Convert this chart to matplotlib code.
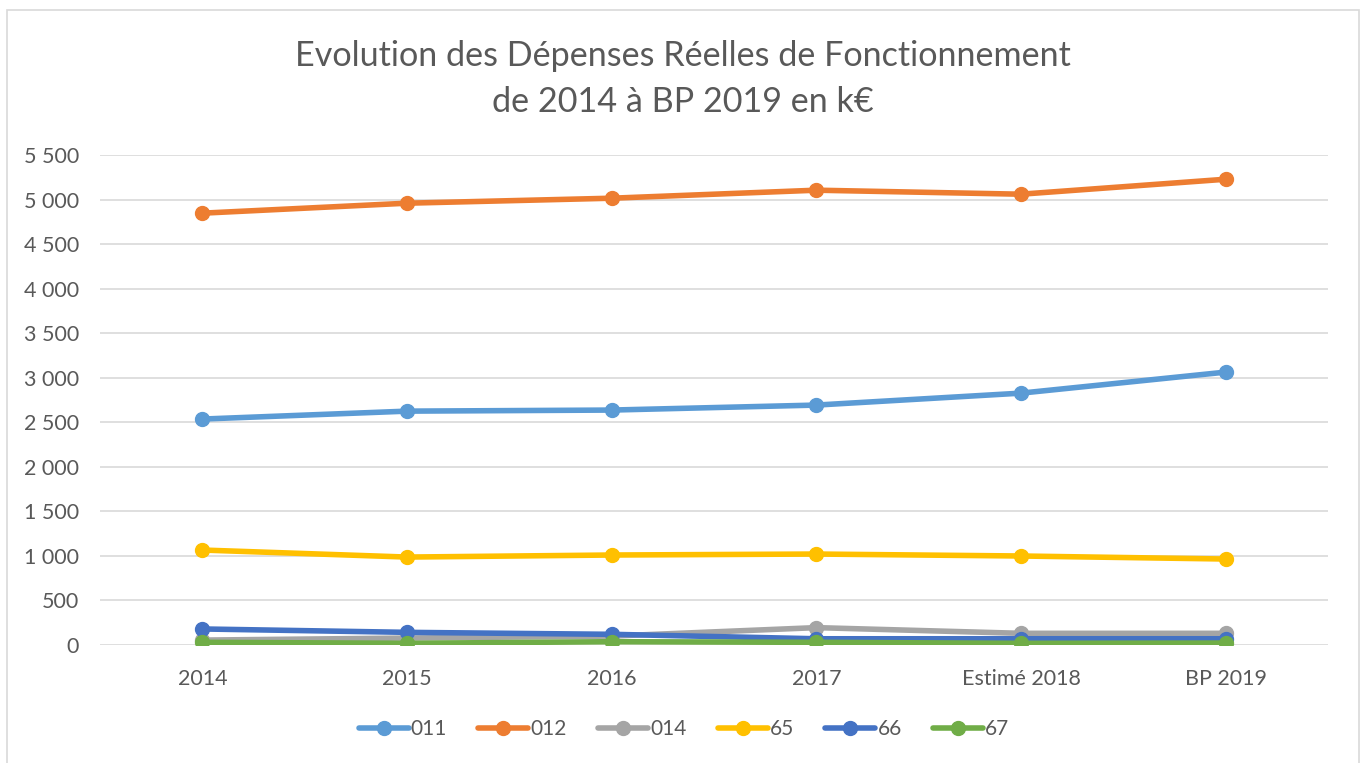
import matplotlib
matplotlib.use('Agg')
import matplotlib.pyplot as plt
from matplotlib.patches import Rectangle
from matplotlib.ticker import FuncFormatter

plt.rcParams['font.family'] = ['Lato', 'DejaVu Sans']

# values (k€)
categories = ['2014', '2015', '2016', '2017', 'Estimé 2018', 'BP 2019']
s011 = [2536, 2625, 2637, 2693, 2827, 3063]
s012 = [4847, 4959, 5015, 5105, 5060, 5228]
s014 = [55, 78, 100, 195, 131, 131]
s65 = [1066, 987, 1010, 1021, 999, 965]
s66 = [180, 142, 120, 70, 70, 70]
s67 = [30, 19, 37, 30, 19, 22]

series = [('011', s011, '#5B9BD5'), ('012', s012, '#ED7D31'),
          ('014', s014, '#A5A5A5'), ('65', s65, '#FFC000'),
          ('66', s66, '#4472C4'), ('67', s67, '#70AD47')]

W, H = 1363, 763
fig = plt.figure(figsize=(W / 100, H / 100), dpi=100)
ax = fig.add_axes([100 / W, 1 - 645 / H, 1228 / W, 490 / H])

# outer chart border
fig.patches.append(Rectangle((7 / W, -0.02), 1352 / W, 1 - 10 / H + 0.02,
                             transform=fig.transFigure, fill=False,
                             edgecolor='#D9D9D9', lw=1.2))

x = list(range(len(categories)))
for name, vals, col in series:
    ax.plot(x, vals, color=col, lw=4, marker='o', ms=10, label=name,
            solid_capstyle='round')

ax.set_xlim(-0.5, 5.5)
ax.set_ylim(0, 5500)
ax.set_yticks(range(0, 5501, 500))
ax.yaxis.set_major_formatter(FuncFormatter(lambda v, p: f'{int(v):,}'.replace(',', ' ')))
ax.set_xticks(x)
ax.set_xticklabels(categories)
ax.grid(axis='y', color='#D9D9D9', lw=1.2)
ax.set_axisbelow(True)
for s in ax.spines.values():
    s.set_visible(False)
ax.tick_params(length=0, labelsize=15.5, colors='#595959')
ax.tick_params(axis='y', pad=15)
ax.tick_params(axis='x', pad=17)

fig.text(683 / W, 1 - 56 / H, 'Evolution des Dépenses Réelles de Fonctionnement',
         ha='center', va='center', fontsize=24.6, color='#595959')
fig.text(683 / W, 1 - 102 / H, 'de 2014 à BP 2019 en k€',
         ha='center', va='center', fontsize=24.6, color='#595959')

fig.legend(loc='center', bbox_to_anchor=(684 / W, 1 - 729 / H), ncol=6,
           frameon=False, fontsize=15, labelcolor='#595959',
           handlelength=2.4, handletextpad=0.1, columnspacing=1.5)

fig.savefig('out.png', dpi=100)
